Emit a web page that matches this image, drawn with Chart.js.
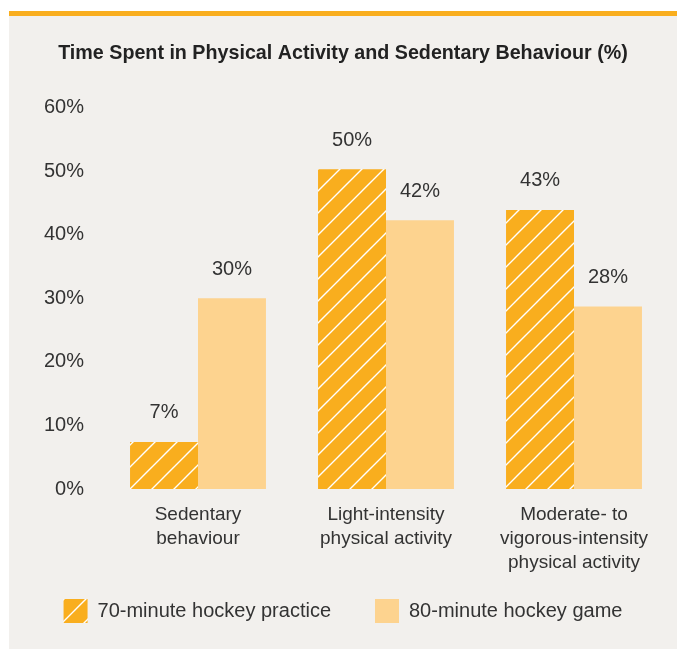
<!DOCTYPE html>
<html>
<head>
<meta charset="utf-8">
<script src="https://cdn.jsdelivr.net/npm/chart.js@4"></script>
<style>
  html, body { margin: 0; padding: 0; background: #ffffff; width: 677px; height: 649px; overflow: hidden; }
  #panel { position: absolute; left: 9px; top: 11px; width: 668px; height: 638px; background: #f2f0ed; border-top: 5px solid #f9ae1e; overflow: hidden; }
  #c { display: block; }
</style>
</head>
<body>
<div id="panel"><canvas id="c" width="668" height="641"></canvas></div>
<script>
const categories = [
  ['Sedentary', 'behaviour'],
  ['Light-intensity', 'physical activity'],
  ['Moderate- to', 'vigorous-intensity', 'physical activity']
];
const seriesNames = ['70-minute hockey practice', '80-minute hockey game'];
const practiceValues = [7.4, 50.3, 43.9];
const gameValues = [30.0, 42.3, 28.7];
const practiceLabels = ['7%', '50%', '43%'];
const gameLabels = ['30%', '42%', '28%'];
const yTicks = [0, 10, 20, 30, 40, 50, 60];
const titleText = 'Time Spent in Physical Activity and Sedentary Behaviour (%)';

const ORANGE = '#f9ae1e';
const PEACH = '#fdd38f';
const TEXT = '#333333';
const SANS = '"Liberation Sans", Arial, sans-serif';
const LEGEND_PAD = 44;

function makeHatch() {
  const s = 22;
  const p = document.createElement('canvas');
  p.width = s; p.height = s;
  const g = p.getContext('2d');
  g.fillStyle = ORANGE;
  g.fillRect(0, 0, s, s);
  g.strokeStyle = '#ffffff';
  g.lineWidth = 1.4;
  g.beginPath();
  g.moveTo(-2, s + 2); g.lineTo(s + 2, -2);
  g.moveTo(-s / 2 - 2, s / 2 + 2); g.lineTo(s / 2 + 2, -s / 2 - 2);
  g.moveTo(s / 2 - 2, s * 1.5 + 2); g.lineTo(s * 1.5 + 2, s / 2 - 2);
  g.stroke();
  return document.getElementById('c').getContext('2d').createPattern(p, 'repeat');
}
const hatch = makeHatch();

const valueLabels = {
  id: 'valueLabels',
  afterDatasetsDraw(chart) {
    const ctx = chart.ctx;
    const texts = [practiceLabels, gameLabels];
    ctx.save();
    ctx.font = '20px ' + SANS;
    ctx.fillStyle = TEXT;
    ctx.textAlign = 'center';
    ctx.textBaseline = 'middle';
    chart.data.datasets.forEach((ds, i) => {
      chart.getDatasetMeta(i).data.forEach((bar, j) => {
        ctx.fillText(texts[i][j], bar.x, bar.y - 29);
      });
    });
    ctx.restore();
  }
};

// Lift the legend row closer to the axis labels (the wide item padding also pads vertically)
const legendLift = {
  id: 'legendLift',
  afterLayout(chart) {
    const lg = chart.legend;
    if (!lg) return;
    const target = chart.chartArea.bottom + 110;
    const shift = (lg.top + LEGEND_PAD) - target;
    lg.top -= shift;
    lg.bottom -= shift;
  }
};

new Chart(document.getElementById('c'), {
  type: 'bar',
  data: {
    labels: categories,
    datasets: [
      { label: seriesNames[0], data: practiceValues, backgroundColor: hatch, borderWidth: 0 },
      { label: seriesNames[1], data: gameValues, backgroundColor: PEACH, borderWidth: 0 }
    ]
  },
  options: {
    responsive: false,
    devicePixelRatio: 1,
    animation: false,
    datasets: { bar: { categoryPercentage: 0.723, barPercentage: 1.0 } },
    layout: { padding: { left: 9, right: 9, top: 0, bottom: 0 } },
    plugins: {
      title: {
        display: true,
        text: titleText,
        color: '#222222',
        font: { family: SANS, size: 19.7, weight: 'bold' },
        padding: { top: 26, bottom: 42 }
      },
      legend: {
        position: 'bottom',
        labels: {
          boxWidth: 24,
          boxHeight: 24,
          padding: LEGEND_PAD,
          color: TEXT,
          font: { family: SANS, size: 20 }
        }
      },
      tooltip: { enabled: false }
    },
    scales: {
      y: {
        min: 0, max: 60,
        afterBuildTicks: s => { s.ticks = yTicks.map(v => ({ value: v })); },
        afterFit: s => { s.width = 86; },
        grid: { display: false, drawTicks: false },
        border: { display: false },
        ticks: {
          padding: 20,
          color: TEXT,
          font: { family: SANS, size: 20 },
          callback: v => v + '%'
        }
      },
      x: {
        afterFit: s => { s.height = 90; },
        grid: { display: false, drawTicks: false },
        border: { display: false },
        ticks: {
          padding: 14,
          color: TEXT,
          maxRotation: 0,
          autoSkip: false,
          font: { family: SANS, size: 19, lineHeight: 1.26 }
        }
      }
    }
  },
  plugins: [valueLabels, legendLift]
});
</script>
</body>
</html>
